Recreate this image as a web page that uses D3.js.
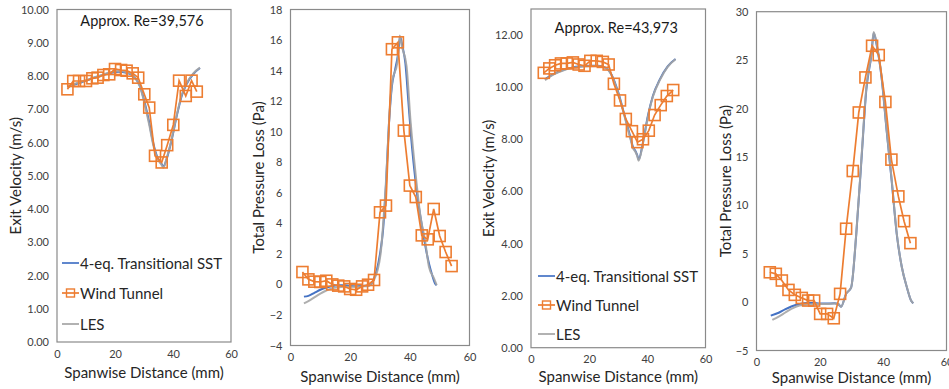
<!DOCTYPE html>
<html><head><meta charset="utf-8">
<script src="https://cdn.jsdelivr.net/npm/d3@7"></script>
<style>body{margin:0;background:#fff}svg{display:block}</style>
</head><body>
<svg id="chart" width="949" height="389"></svg>
<script>
// ---------- data ----------
const xTicks = [0, 20, 40, 60];
const velTicks1 = [0,1,2,3,4,5,6,7,8,9,10];
const pTicks2 = [-4,-2,0,2,4,6,8,10,12,14,16,18];
const velTicks3 = [0,2,4,6,8,10,12];
const pTicks4 = [-5,0,5,10,15,20,25,30];
const seriesNames = ["4-eq. Transitional SST", "Wind Tunnel", "LES"];
const titles = ["Approx. Re=39,576", "Approx. Re=43,973"];
const yLabels = ["Exit Velocity (m/s)", "Total Pressure Loss (Pa)"];
const xLabel = "Spanwise Distance (mm)";

// Panel 1: exit velocity, Re=39,576
const wt1X = [3.6,5.6,7.6,10.0,12.2,14.0,16.0,18.0,20.0,22.1,24.0,26.1,28.0,30.1,31.8,33.8,36.1,38.0,40.1,42.1,44.4,46.4,48.2];
const wt1Y = [7.60,7.85,7.85,7.85,7.93,7.95,8.03,8.05,8.21,8.18,8.16,8.08,7.95,7.45,7.05,5.60,5.40,5.92,6.53,7.86,7.40,7.86,7.53];
const les1X = [3.6,6,8,10,12.5,15,18.3,21.1,24,26.3,28.6,30.3,31.8,33.2,34.6,36.1,36.7,37.8,39.6,41.3,43,44.7,47,49.3];
const les1Y = [7.68,7.76,7.82,7.87,7.95,8.02,8.11,8.15,8.11,8.01,7.68,7.13,6.53,5.92,5.52,5.32,5.24,5.52,6.13,6.83,7.43,7.78,8.08,8.25];
const sst1X = [3.6,6,8,10,12.5,15,18.3,21.1,24,26.3,28.6,30.3,31.8,33.2,34.6,36.1,36.7,37.8,39.6,41.3,43,44.7,47,49.3];
const sst1Y = [7.66,7.74,7.80,7.86,7.94,8.01,8.09,8.13,8.10,8.00,7.70,7.18,6.60,5.98,5.56,5.35,5.28,5.50,6.10,6.80,7.40,7.76,8.06,8.24];

// Panel 2: total pressure loss, Re=39,576
const wt2X = [4,6,8,10,12,14,16,18,20,22,24,26,28,30,32,34,36,38,40,42,44,46,48,50,52,54];
const wt2Y = [0.81,0.33,0.18,0.16,0.24,0.0,-0.08,-0.13,-0.30,-0.35,-0.13,-0.02,0.29,4.72,5.16,15.4,15.85,10.07,6.47,5.72,3.21,2.95,4.94,3.17,2.12,1.20];
const les2X = [4.5,6,8,10,12,14,16,18,20,22,24,26,27,28,29.2,30.2,31.9,33.5,34.1,35.8,36.6,37.3,38.9,40.2,41.9,43.6,45.1,46.4,48.1,49];
const les2Y = [-1.24,-1.1,-0.85,-0.6,-0.4,-0.25,-0.18,-0.15,-0.15,-0.15,-0.13,-0.1,0.0,0.3,0.94,2.0,6.4,12.1,13.3,14.5,16.3,15.6,14.3,10.8,7.3,4.4,2.9,1.16,0.4,-0.04];
const sst2X = [4.5,6,8,10,12,14,16,18,20,22,24,26,27,28,29,30,31,32,33,34,35,36,36.8,37.5,38.5,39.5,40.5,41.5,42.5,43.5,44.5,45.5,46.5,47.5,48.5,49];
const sst2Y = [-0.8,-0.75,-0.55,-0.35,-0.2,-0.1,-0.05,-0.05,-0.1,-0.12,-0.1,-0.08,0.0,0.4,1.0,2.0,3.5,6.5,10.5,13.0,14.0,15.0,16.2,15.6,14.5,12.0,9.5,7.5,5.8,4.5,3.3,2.2,1.3,0.6,0.05,-0.05];

// Panel 3: exit velocity, Re=43,973
const wt3X = [4.4,6.3,8.3,10.3,12.3,14.4,16.4,18.4,20.4,22.6,24.7,26.7,28.5,30.6,32.6,34.7,36.6,38.5,40.5,42.5,44.6,46.7,48.9];
const wt3Y = [10.55,10.72,10.84,10.91,10.91,10.95,10.87,10.82,11.01,11.01,10.97,10.87,10.13,9.49,8.78,8.31,7.89,8.0,8.33,8.93,9.31,9.66,9.89];
const les3X = [4.8,8,11.5,14,17.2,20,23,25.9,27.7,30,32.2,34,35.1,35.9,36.6,37,38.5,40.2,41.9,44.3,47,49.7];
const les3Y = [10.27,10.5,10.66,10.73,10.78,10.8,10.81,10.72,10.46,9.76,8.86,8.1,7.65,7.52,7.33,7.18,7.84,8.86,9.63,10.27,10.78,11.07];
const sst3X = [4.8,8,11.5,14,17.2,20,23,25.9,27.7,30,32.2,34,35.1,35.9,36.6,37,38.5,40.2,41.9,44.3,47,49.7];
const sst3Y = [10.3,10.52,10.68,10.75,10.8,10.82,10.82,10.73,10.48,9.8,8.9,8.15,7.7,7.55,7.36,7.22,7.88,8.9,9.66,10.3,10.8,11.08];

// Panel 4: total pressure loss, Re=43,973
const wt4X = [4.2,6.1,8.0,10.1,12.1,14.3,16.3,18.2,20.1,22.3,24.4,26.4,28.3,30.4,32.3,34.4,36.5,38.6,40.7,42.6,44.8,46.6,48.6];
const wt4Y = [3.08,2.92,2.23,1.26,0.75,0.43,0.16,0.16,-1.22,-1.22,-1.67,0.85,7.58,13.54,19.59,23.21,26.48,25.52,20.68,14.72,10.92,8.36,6.09];
const les4X = [5,7,9,11,13.6,16,18,20,22,24.6,25.8,26.7,28.3,29.9,31.5,33.1,34.7,36.3,37,38.1,39.5,41.1,42.7,44.3,45.9,47.5,48.8,49.5];
const les4Y = [-1.84,-1.5,-1.1,-0.7,-0.35,-0.25,-0.2,-0.2,-0.2,-0.15,-0.2,-0.47,0.85,1.53,7.06,14.65,22.2,25.7,27.9,26.4,23.3,17.8,12.6,7.06,3.6,1.53,0.16,-0.12];
const sst4X = [4.5,7,9,11,13.6,16,18,20,22,24.6,25.8,26.7,28.3,29.9,31.5,33.1,34.7,36.3,37,38.1,39.5,41.1,42.7,44.3,45.9,47.5,48.8,49.5];
const sst4Y = [-1.40,-1.1,-0.75,-0.45,-0.19,-0.1,-0.1,-0.15,-0.15,-0.12,-0.2,-0.47,0.85,1.53,7.0,14.5,22.0,25.6,27.8,26.3,23.2,17.7,12.5,7.0,3.6,1.5,0.16,-0.12];

// ---------- styles ----------
const C_SST = "#4472C4", C_WT = "#ED7D31", C_LES = "#A5A5A5";
const FONT = "Lato, 'Open Sans', sans-serif";

const svg = d3.select("#chart");

function zip(xs, ys){ return xs.map((x,i)=>({x, y: ys[i]})); }

const panels = [
  {box:[57,231,9.5,342], yDom:[0,10], yTicks: velTicks1, fmt: d3.format(".2f"), yLab: yLabels[0], yLabX: 15, xLabY: 378,
   title: titles[0], titleY: 26, legend:{x:62, y:[263,293,324]},
   sst: zip(sst1X,sst1Y), wt: zip(wt1X,wt1Y), les: zip(les1X,les1Y)},
  {box:[290.5,469.5,9.5,345.5], yDom:[-4,18], yTicks: pTicks2, fmt: d3.format("d"), yLab: yLabels[1], yLabX: 258, xLabY: 382,
   sst: zip(sst2X,sst2Y), wt: zip(wt2X,wt2Y), les: zip(les2X,les2Y)},
  {box:[531,705.5,9,347.7], yDom:[0,13], yTicks: velTicks3, fmt: d3.format(".2f"), yLab: yLabels[0], yLabX: 488, xLabY: 382,
   title: titles[1], titleY: 33, legend:{x:538, y:[276,305,334]},
   sst: zip(sst3X,sst3Y), wt: zip(wt3X,wt3Y), les: zip(les3X,les3Y)},
  {box:[756.5,946.5,11.7,350.5], yDom:[-5,30], yTicks: pTicks4, fmt: d3.format("d"), yLab: yLabels[1], yLabX: 725, xLabY: 383,
   sst: zip(sst4X,sst4Y), wt: zip(wt4X,wt4Y), les: zip(les4X,les4Y)}
];

panels.forEach(p => {
  const [x0,x1,y0,y1] = p.box;
  const x = d3.scaleLinear().domain([0,60]).range([x0,x1]);
  const y = d3.scaleLinear().domain(p.yDom).range([y1,y0]);
  const g = svg.append("g");

  // plot frame
  g.append("rect").attr("x",x0).attr("y",y0).attr("width",x1-x0).attr("height",y1-y0)
    .attr("fill","none").attr("stroke","#8a8a8a").attr("stroke-width",1.2);

  // axes (labels only)
  const ya = d3.axisLeft(y).tickValues(p.yTicks).tickFormat(p.fmt).tickSize(0).tickPadding(8);
  const gy = g.append("g").attr("transform",`translate(${x0},0)`).call(ya);
  gy.select(".domain").remove();
  gy.selectAll("text").attr("font-family",FONT).attr("font-size",11).attr("fill","#404040");

  const xa = d3.axisBottom(x).tickValues(xTicks).tickSize(0).tickPadding(8);
  const gx = g.append("g").attr("transform",`translate(0,${y1})`).call(xa);
  gx.select(".domain").remove();
  gx.selectAll("text").attr("font-family",FONT).attr("font-size",11).attr("fill","#404040");

  // axis titles
  g.append("text").attr("x",(x0+x1)/2).attr("y",p.xLabY).attr("text-anchor","middle")
    .attr("font-family",FONT).attr("font-size",15).attr("fill","#262626").text(xLabel);
  g.append("text").attr("transform",`translate(${p.yLabX},${(y0+y1)/2}) rotate(-90)`)
    .attr("text-anchor","middle").attr("dominant-baseline","central")
    .attr("font-family",FONT).attr("font-size",15).attr("fill","#262626").text(p.yLab);

  if (p.title) {
    g.append("text").attr("x",(x0+x1)/2 - 2).attr("y",p.titleY).attr("text-anchor","middle")
      .attr("font-family",FONT).attr("font-size",14.5).attr("fill","#1a1a1a").text(p.title);
  }

  const line = d3.line().x(d=>x(d.x)).y(d=>y(d.y)).curve(d3.curveMonotoneX);
  const lineL = d3.line().x(d=>x(d.x)).y(d=>y(d.y));

  g.append("path").datum(p.sst).attr("d",line).attr("fill","none")
    .attr("stroke",C_SST).attr("stroke-width",2);
  g.append("path").datum(p.les).attr("d",line).attr("fill","none")
    .attr("stroke",C_LES).attr("stroke-width",2).attr("stroke-opacity",0.9);
  g.append("path").datum(p.wt).attr("d",lineL).attr("fill","none")
    .attr("stroke",C_WT).attr("stroke-width",1.7);
  g.selectAll("rect.m").data(p.wt).enter().append("rect").attr("class","m")
    .attr("x",d=>x(d.x)-5.5).attr("y",d=>y(d.y)-5.5).attr("width",11).attr("height",11)
    .attr("fill","none").attr("stroke",C_WT).attr("stroke-width",1.6);

  if (p.legend) {
    const cols = [C_SST, C_WT, C_LES];
    seriesNames.forEach((name,i) => {
      const ly = p.legend.y[i], lx = p.legend.x;
      g.append("line").attr("x1",lx).attr("x2",lx+17).attr("y1",ly).attr("y2",ly)
        .attr("stroke",cols[i]).attr("stroke-width",1.7);
      if (i===1) g.append("rect").attr("x",lx+4.5).attr("y",ly-4).attr("width",8).attr("height",8)
        .attr("fill","none").attr("stroke",C_WT).attr("stroke-width",1.4);
      g.append("text").attr("x",lx+18).attr("y",ly).attr("dominant-baseline","central")
        .attr("font-family",FONT).attr("font-size",15).attr("fill","#262626").text(name);
    });
  }
});
</script>
</body></html>
